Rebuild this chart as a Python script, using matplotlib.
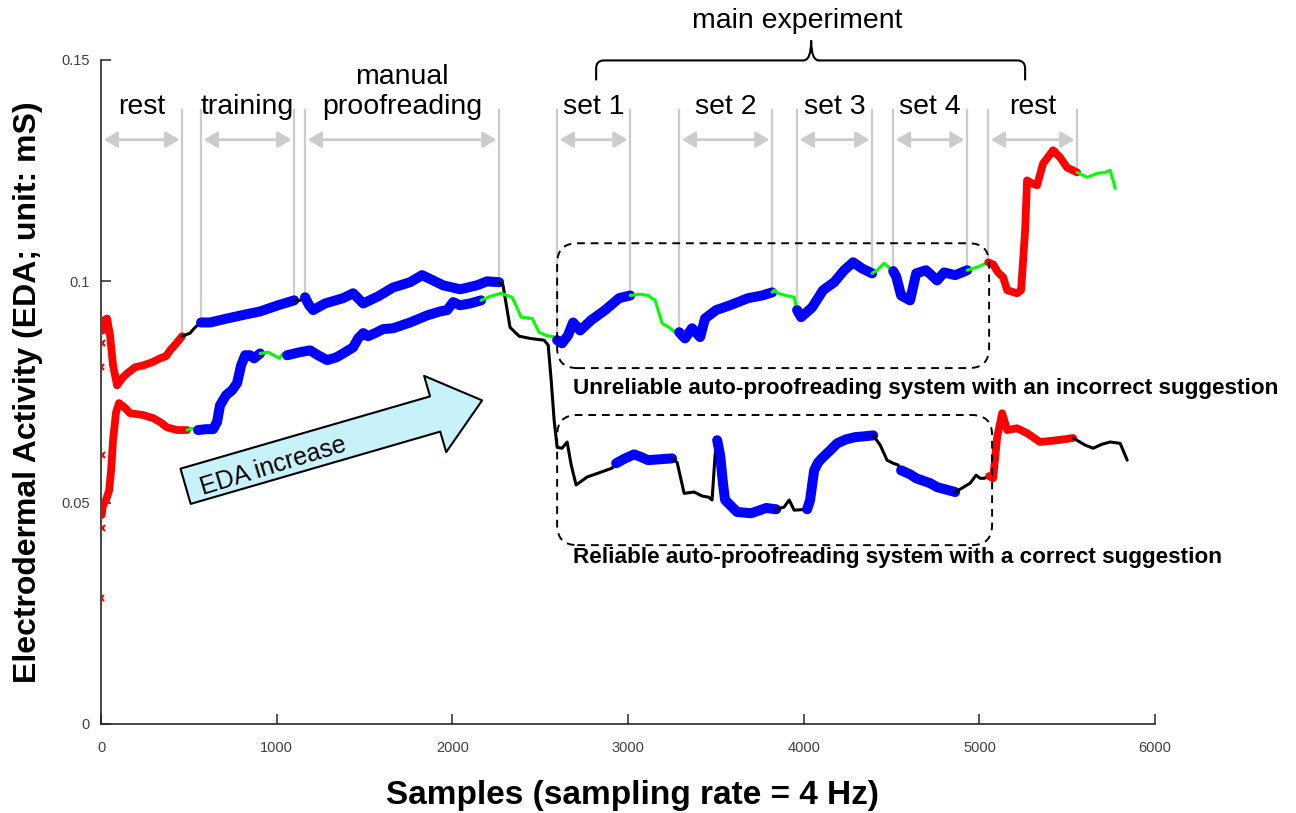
import numpy as np
import matplotlib.pyplot as plt
from matplotlib.patches import FancyBboxPatch, PathPatch
from matplotlib.path import Path

plt.rcParams['font.family'] = ['Liberation Sans', 'DejaVu Sans']

# first few samples of each session (drawn as loose markers only)
startA_x = [0, 4]
startA_y = [0.0806, 0.0860]
startB_x = [0, 3, 6]
startB_y = [0.0284, 0.0442, 0.0607]

# session A: starts high, ends as the "reliable" trace
xA = [8, 17, 34, 51, 68, 91, 120, 148, 194, 239, 290, 336, 370, 393, 433, 461,
      507, 535, 569, 620, 717, 820, 905, 1008, 1099, 1133, 1161, 1184, 1207,
      1275, 1378, 1435, 1492, 1577, 1662, 1759, 1827, 1890, 1947, 2044, 2140,
      2197, 2266, 2288, 2328, 2380, 2442, 2522, 2545, 2562, 2579, 2596, 2624,
      2653, 2676, 2704, 2767, 2846, 2909, 2932, 2983, 3034, 3074, 3114, 3182,
      3250, 3279, 3319, 3376, 3421, 3461, 3478, 3495, 3507, 3524, 3541, 3552,
      3620, 3700, 3751, 3786, 3843, 3888, 3917, 3945, 4019, 4036, 4059, 4082,
      4110, 4150, 4190, 4241, 4292, 4349, 4395, 4435, 4474, 4509, 4537, 4554,
      4605, 4640, 4719, 4759, 4862, 4901, 4947, 4981, 5004, 5027, 5055, 5078,
      5101, 5129, 5158, 5214, 5271, 5345, 5442, 5533, 5602, 5647, 5698, 5744,
      5801, 5818, 5841]
yA = [0.0889, 0.0912, 0.0916, 0.0878, 0.0810, 0.0765, 0.0781, 0.0792, 0.0806,
      0.0810, 0.0817, 0.0826, 0.0831, 0.0844, 0.0862, 0.0876, 0.0883, 0.0896,
      0.0907, 0.0907, 0.0916, 0.0925, 0.0932, 0.0946, 0.0957, 0.0957, 0.0964,
      0.0946, 0.0935, 0.0950, 0.0962, 0.0973, 0.0950, 0.0966, 0.0986, 0.0998,
      0.1014, 0.1002, 0.0991, 0.0982, 0.0991, 0.1000, 0.0998, 0.0991, 0.0896,
      0.0876, 0.0871, 0.0867, 0.0856, 0.0777, 0.0686, 0.0625, 0.0623, 0.0637,
      0.0585, 0.0540, 0.0558, 0.0569, 0.0578, 0.0589, 0.0600, 0.0609, 0.0603,
      0.0596, 0.0598, 0.0600, 0.0591, 0.0521, 0.0524, 0.0515, 0.0512, 0.0506,
      0.0607, 0.0641, 0.0607, 0.0540, 0.0506, 0.0479, 0.0476, 0.0483, 0.0488,
      0.0485, 0.0490, 0.0506, 0.0483, 0.0485, 0.0506, 0.0573, 0.0591, 0.0603,
      0.0618, 0.0634, 0.0643, 0.0648, 0.0650, 0.0652, 0.0630, 0.0596, 0.0589,
      0.0585, 0.0573, 0.0564, 0.0555, 0.0544, 0.0535, 0.0524, 0.0533, 0.0544,
      0.0562, 0.0555, 0.0555, 0.0560, 0.0555, 0.0648, 0.0702, 0.0664, 0.0668,
      0.0657, 0.0637, 0.0641, 0.0646, 0.0630, 0.0623, 0.0632, 0.0637, 0.0634,
      0.0618, 0.0596]
brkA = [0, 461, 569, 1099, 1161, 2266, 2932, 3250, 3507, 3843, 4019, 4395,
        4554, 4862, 5055, 5533, 5841]
colA = ['red', 'black', 'blue', 'black', 'blue', 'black', 'blue', 'black',
        'blue', 'black', 'blue', 'black', 'blue', 'black', 'red', 'black']

# session B: starts low, ends as the "unreliable" trace
xB = [3, 11, 28, 46, 57, 68, 85, 102, 131, 165, 239, 296, 336, 376, 433, 490,
      518, 552, 598, 638, 660, 677, 712, 746, 774, 797, 820, 848, 871, 905,
      951, 985, 1013, 1036, 1059, 1133, 1190, 1235, 1287, 1338, 1378, 1435,
      1463, 1492, 1520, 1560, 1605, 1662, 1759, 1856, 1930, 1970, 2004, 2044,
      2101, 2163, 2214, 2277, 2340, 2362, 2391, 2454, 2493, 2533, 2584, 2596,
      2624, 2658, 2687, 2727, 2789, 2869, 2949, 3012, 3068, 3114, 3154, 3194,
      3233, 3273, 3291, 3324, 3364, 3410, 3438, 3501, 3581, 3683, 3763, 3820,
      3831, 3854, 3899, 3945, 3962, 3985, 4047, 4110, 4173, 4230, 4281, 4332,
      4389, 4417, 4457, 4509, 4526, 4554, 4605, 4640, 4696, 4759, 4799, 4862,
      4930, 4987, 5050, 5078, 5106, 5135, 5158, 5214, 5237, 5260, 5271, 5300,
      5328, 5362, 5419, 5459, 5499, 5556, 5613, 5670, 5715, 5744, 5761, 5773]
yB = [0.0472, 0.0494, 0.0506, 0.0528, 0.0573, 0.0641, 0.0704, 0.0725, 0.0716,
      0.0702, 0.0698, 0.0691, 0.0682, 0.0670, 0.0664, 0.0664, 0.0668, 0.0664,
      0.0666, 0.0666, 0.0682, 0.0720, 0.0743, 0.0754, 0.0770, 0.0810, 0.0833,
      0.0833, 0.0826, 0.0837, 0.0840, 0.0833, 0.0826, 0.0837, 0.0833, 0.0840,
      0.0844, 0.0833, 0.0822, 0.0828, 0.0837, 0.0851, 0.0871, 0.0883, 0.0876,
      0.0883, 0.0892, 0.0894, 0.0907, 0.0923, 0.0932, 0.0935, 0.0953, 0.0946,
      0.0950, 0.0957, 0.0966, 0.0973, 0.0964, 0.0946, 0.0919, 0.0916, 0.0885,
      0.0878, 0.0874, 0.0867, 0.0860, 0.0878, 0.0907, 0.0889, 0.0912, 0.0935,
      0.0962, 0.0968, 0.0971, 0.0968, 0.0957, 0.0905, 0.0896, 0.0883, 0.0885,
      0.0871, 0.0894, 0.0874, 0.0916, 0.0935, 0.0946, 0.0962, 0.0968, 0.0975,
      0.0980, 0.0973, 0.0968, 0.0964, 0.0935, 0.0919, 0.0941, 0.0980, 0.0998,
      0.1025, 0.1043, 0.1029, 0.1018, 0.1025, 0.1041, 0.1023, 0.1011, 0.0968,
      0.0957, 0.1018, 0.1025, 0.1002, 0.1020, 0.1014, 0.1025, 0.1032, 0.1043,
      0.1038, 0.1020, 0.1009, 0.0980, 0.0973, 0.0980, 0.1115, 0.1228, 0.1221,
      0.1217, 0.1266, 0.1296, 0.1280, 0.1257, 0.1246, 0.1235, 0.1244, 0.1246,
      0.1251, 0.1228, 0.1210]
brkB = [0, 490, 552, 905, 1059, 2163, 2596, 3012, 3291, 3820, 3962, 4389,
        4509, 4930, 5050, 5556, 5773]
colB = ['red', 'lime', 'blue', 'lime', 'blue', 'lime', 'blue', 'lime', 'blue',
        'lime', 'blue', 'lime', 'blue', 'lime', 'red', 'lime']

# experiment phases
phase_labels = ['rest', 'training', 'manual\nproofreading', 'set 1', 'set 2',
                'set 3', 'set 4', 'rest']
phase_start = [0, 569, 1161, 2596, 3291, 3962, 4509, 5050]
phase_end = [461, 1099, 2266, 3012, 3820, 4389, 4930, 5556]

fig = plt.figure(figsize=(12.96, 8.13), dpi=100)
ax = fig.add_axes([0.078, 0.1095, 0.8133, 0.8167])
ax.set_xlim(0, 6000)
ax.set_ylim(0, 0.15)

xA, yA, xB, yB = map(np.array, (xA, yA, xB, yB))
widths = {'red': 5.6, 'blue': 7.2, 'black': 2.2, 'lime': 2.2}


def draw_session(x, y, brk, cols):
    for i, c in enumerate(cols):
        m = (x >= brk[i]) & (x <= brk[i + 1])
        ax.plot(x[m], y[m], color=c, lw=widths[c],
                solid_joinstyle='round', solid_capstyle='round', zorder=3)


draw_session(xA, yA, brkA, colA)
draw_session(xB, yB, brkB, colB)
ax.plot(startA_x, startA_y, 'x', color='red', ms=4, mew=1.5, zorder=3)
ax.plot(startB_x, startB_y, 'x', color='red', ms=4, mew=1.5, zorder=3)

# phase boundaries, arrows and labels
y_top, y_arr, y_lab = 0.1386, 0.1320, 0.1379
bounds = sorted(set(phase_start[1:] + phase_end))
for b in bounds:
    low = max(np.interp(b, xA, yA), np.interp(b, xB, yB))
    ax.plot([b, b], [low, y_top], color='#cccccc', lw=1.6, zorder=1)
for s, e, lab in zip(phase_start, phase_end, phase_labels):
    ax.annotate('', xy=(e, y_arr), xytext=(s, y_arr),
                arrowprops=dict(arrowstyle='<|-|>,head_length=0.5,head_width=0.3',
                                color='#cccccc', lw=2, mutation_scale=16,
                                shrinkA=2, shrinkB=2))
    ax.text((s + e) / 2, y_lab, lab, ha='center', va='baseline',
            fontsize=20.5, linespacing=1.2)

# brace over the main experiment
xl, xm, xr = 2818, 4042, 5260
yb, yh, yt = 0.1454, 0.1499, 0.1544
rx, ry = 45, 0.0018
verts = [(xl, yb), (xl, yh - ry), (xl, yh), (xl + rx, yh), (xm - rx, yh),
         (xm, yh), (xm, yt), (xm, yh), (xm + rx, yh), (xr - rx, yh),
         (xr, yh), (xr, yh - ry), (xr, yb)]
codes = [Path.MOVETO, Path.LINETO, Path.CURVE3, Path.CURVE3, Path.LINETO,
         Path.CURVE3, Path.CURVE3, Path.CURVE3, Path.CURVE3, Path.LINETO,
         Path.CURVE3, Path.CURVE3, Path.LINETO]
ax.add_patch(PathPatch(Path(verts, codes), fill=False, lw=1.5, clip_on=False))
ax.text(3962, 0.1589, 'main experiment', ha='center', va='center',
        fontsize=20.5, clip_on=False)

# dashed rounded boxes
aspect = (0.15 / 664) / (6000 / 1054)
for x0, x1, y0, y1 in [(2596, 5055, 0.0804, 0.1086), (2596, 5072, 0.0404, 0.0698)]:
    ax.add_patch(FancyBboxPatch((x0, y0), x1 - x0, y1 - y0,
                                boxstyle='round,pad=0,rounding_size=115',
                                mutation_aspect=aspect, fill=False, ec='black',
                                lw=1.4, ls=(0, (4, 3)), zorder=4))
ax.text(2687, 0.0758, 'Unreliable auto-proofreading system with an incorrect suggestion',
        ha='left', va='center', fontsize=16.2, fontweight='bold')
ax.text(2687, 0.0375, 'Reliable auto-proofreading system with a correct suggestion',
        ha='left', va='center', fontsize=16.2, fontweight='bold')

# EDA increase arrow
ax.annotate('', xy=(2169, 0.0731), xytext=(481, 0.0537),
            arrowprops=dict(arrowstyle='simple,head_length=1.6,head_width=2.6,tail_width=1.2',
                            mutation_scale=22, fc='#c8f2fa', ec='black', lw=1.5,
                            shrinkA=0, shrinkB=0))
ax.text(979, 0.0582, 'EDA increase', rotation=17, rotation_mode='anchor',
        ha='center', va='center', fontsize=18)

# axes styling
for side in ('top', 'right'):
    ax.spines[side].set_visible(False)
for side in ('left', 'bottom'):
    ax.spines[side].set_color('#262626')
    ax.spines[side].set_linewidth(1.2)
ax.set_xticks([0, 1000, 2000, 3000, 4000, 5000, 6000])
ax.set_yticks([0, 0.05, 0.1, 0.15])
ax.set_yticklabels(['0', '0.05', '0.1', '0.15'])
ax.tick_params(direction='in', length=7, width=1.1, color='#262626',
               labelcolor='#404040', labelsize=10.5)
ax.tick_params(axis='y', pad=8)
ax.tick_params(axis='x', pad=12)

fig.text(0.4877, 1 - 795 / 813, 'Samples (sampling rate = 4 Hz)', ha='center',
         va='center', fontsize=24, fontweight='bold')
fig.text(28 / 1296, 1 - 392 / 813, 'Electrodermal Activity (EDA; unit: mS)',
         ha='center', va='center', rotation=90, fontsize=23, fontweight='bold')

fig.savefig('out.png', dpi=100)
